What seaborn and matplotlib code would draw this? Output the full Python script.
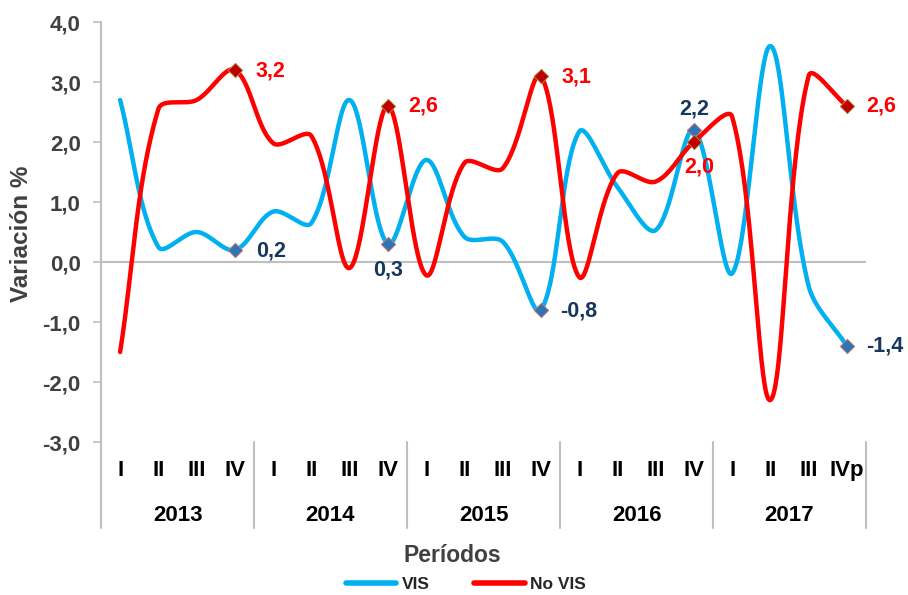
import numpy as np
import pandas as pd
import matplotlib
matplotlib.use("Agg")
import matplotlib.pyplot as plt
from matplotlib.lines import Line2D
import matplotlib.transforms as mtransforms
import seaborn as sns

# ---------------- data ----------------
years = ["2013", "2014", "2015", "2016", "2017"]
quarters = ["I", "II", "III", "IV", "I", "II", "III", "IV", "I", "II", "III", "IV",
            "I", "II", "III", "IV", "I", "II", "III", "IVp"]
vis = [2.7, 0.25, 0.5, 0.2, 0.84, 0.65, 2.7, 0.3, 1.7, 0.42, 0.34, -0.8,
       2.17, 1.25, 0.53, 2.2, -0.19, 3.6, -0.4, -1.4]
no_vis = [-1.5, 2.55, 2.7, 3.2, 1.98, 2.1, -0.1, 2.6, -0.22, 1.65, 1.56, 3.1,
          -0.25, 1.48, 1.34, 2.0, 2.42, -2.3, 3.1, 2.6]
label_idx = [3, 7, 11, 15, 19]
y_ticks = [-3, -2, -1, 0, 1, 2, 3, 4]

VIS_C = "#00B0F0"
NOVIS_C = "#FF0000"
GRAY_TXT = "#404040"
AX_GRAY = "#BFBFBF"

sns.set_theme(style="white")
plt.rcParams["font.family"] = ["Liberation Sans", "DejaVu Sans"]
plt.rcParams["font.weight"] = "bold"

# screen scale (px per unit) used to mimic the spreadsheet's smoothing
SX, SY = 38.25, 60.0


def smooth(xv, yv, n=40):
    """Spreadsheet-like smoothed line (Bezier, tangent split by chord lengths)."""
    P = np.column_stack([np.asarray(xv, float) * SX, np.asarray(yv, float) * SY])
    m = len(P)
    cin = [None] * m
    cout = [None] * m
    for i in range(m):
        pp = P[i - 1] if i > 0 else P[i]
        pn = P[i + 1] if i < m - 1 else P[i]
        T = pn - pp
        d1 = np.linalg.norm(P[i] - pp)
        d2 = np.linalg.norm(pn - P[i])
        tot = d1 + d2 if d1 + d2 > 0 else 1.0
        cout[i] = P[i] + T * (d2 / tot) / 3.0
        cin[i] = P[i] - T * (d1 / tot) / 3.0
    t = np.linspace(0, 1, n)[:, None]
    out = []
    for i in range(m - 1):
        p1, c1, c2, p2 = P[i], cout[i], cin[i + 1], P[i + 1]
        seg = ((1 - t) ** 3) * p1 + 3 * ((1 - t) ** 2) * t * c1 + 3 * (1 - t) * t ** 2 * c2 + t ** 3 * p2
        out.append(seg if i == 0 else seg[1:])
    s = np.vstack(out)
    return s[:, 0] / SX, s[:, 1] / SY


x = np.arange(len(quarters))
frames = []
for name, vals in [("VIS", vis), ("No VIS", no_vis)]:
    sx, sy = smooth(x, vals)
    frames.append(pd.DataFrame({"x": sx, "y": sy, "serie": name}))
df = pd.concat(frames, ignore_index=True)

fig = plt.figure(figsize=(9.08, 5.95), dpi=100)
ax = fig.add_axes([101 / 908, 1 - 442 / 595, 765 / 908, 420 / 595])

ax.axhline(0, color=AX_GRAY, lw=1.5, zorder=1)

sns.lineplot(data=df, x="x", y="y", hue="serie", units="serie", estimator=None,
             sort=False, palette={"VIS": VIS_C, "No VIS": NOVIS_C},
             linewidth=3.2, legend=False, ax=ax, zorder=3)

# markers
mk = pd.DataFrame({"x": np.concatenate([x[label_idx], x[label_idx]]),
                   "y": [vis[i] for i in label_idx] + [no_vis[i] for i in label_idx],
                   "serie": ["VIS"] * 5 + ["No VIS"] * 5})
sns.scatterplot(data=mk[mk.serie == "VIS"], x="x", y="y", marker="D", s=55,
                color="#2E75B6", edgecolor="#E46C6C", linewidth=0.6, ax=ax, zorder=5, legend=False)
sns.scatterplot(data=mk[mk.serie == "No VIS"], x="x", y="y", marker="D", s=55,
                color="#C00000", edgecolor="#9C9C3C", linewidth=0.6, ax=ax, zorder=5, legend=False)


def fmt(v):
    return f"{v:.1f}".replace(".", ",")


# data labels: (offset x pt, offset y pt, ha)
vis_off = [(15, -1, "left"), (0, -19, "center"), (14, -1, "left"), (0, 15, "center"), (14, 0, "left")]
nov_off = [(15, -1, "left"), (15, 0, "left"), (15, -1, "left"), (4, -18, "center"), (14, 0, "left")]
for k, i in enumerate(label_idx):
    dx, dy, ha = vis_off[k]
    ax.annotate(fmt(vis[i]), (x[i], vis[i]), xytext=(dx, dy), textcoords="offset points",
                ha=ha, va="center", fontsize=15.5, fontweight="bold", color="#17375E", zorder=6)
    dx, dy, ha = nov_off[k]
    ax.annotate(fmt(no_vis[i]), (x[i], no_vis[i]), xytext=(dx, dy), textcoords="offset points",
                ha=ha, va="center", fontsize=15.5, fontweight="bold", color=NOVIS_C, zorder=6)

ax.set_xlim(-0.5, len(quarters) - 0.5)
ax.set_ylim(-3, 4)
ax.set_yticks(y_ticks)
ax.set_yticklabels([fmt(v) for v in y_ticks], fontsize=16, fontweight="bold", color=GRAY_TXT)
ax.tick_params(axis="y", length=6, width=1.2, color=AX_GRAY, pad=8.5, left=True)
ax.set_xticks([])
ax.set_xlabel("")
ax.set_ylabel("")
for sp in ["top", "right", "bottom"]:
    ax.spines[sp].set_visible(False)
ax.spines["left"].set_color(AX_GRAY)
ax.spines["left"].set_linewidth(1.5)
ax.spines["left"].set_bounds(-3, 4)

# category labels
trans = mtransforms.blended_transform_factory(ax.transData, ax.transAxes)
for i, q in enumerate(quarters):
    ax.text(x[i], -0.067, q, transform=trans, ha="center", va="center",
            fontsize=16, fontweight="bold", color="black")
for j, yr in enumerate(years):
    ax.text(4 * j + 1.5, -0.174, yr, transform=trans, ha="center", va="center",
            fontsize=16, fontweight="bold", color="black")
for j in range(len(years) + 1):
    xb = 4 * j - 0.5
    ax.plot([xb, xb], [0, -0.205], transform=trans, color=AX_GRAY, lw=1.5, clip_on=False)

fig.text(22 / 908, 1 - 234 / 595, "Variación %", rotation=90, ha="center", va="center",
         fontsize=17.5, fontweight="bold", color=GRAY_TXT)
fig.text(452 / 908, 1 - 555 / 595, "Períodos", ha="center", va="center",
         fontsize=16.5, fontweight="bold", color=GRAY_TXT)

handles = [Line2D([0], [0], color=VIS_C, lw=4), Line2D([0], [0], color=NOVIS_C, lw=4)]
fig.legend(handles, ["VIS", "No VIS"], loc="center", bbox_to_anchor=(0.513, 0.017), ncol=2,
           frameon=False, handlelength=2.9, handletextpad=0.3, columnspacing=2.6,
           prop={"weight": "bold", "size": 12.5})

fig.savefig("out.png", dpi=100)
